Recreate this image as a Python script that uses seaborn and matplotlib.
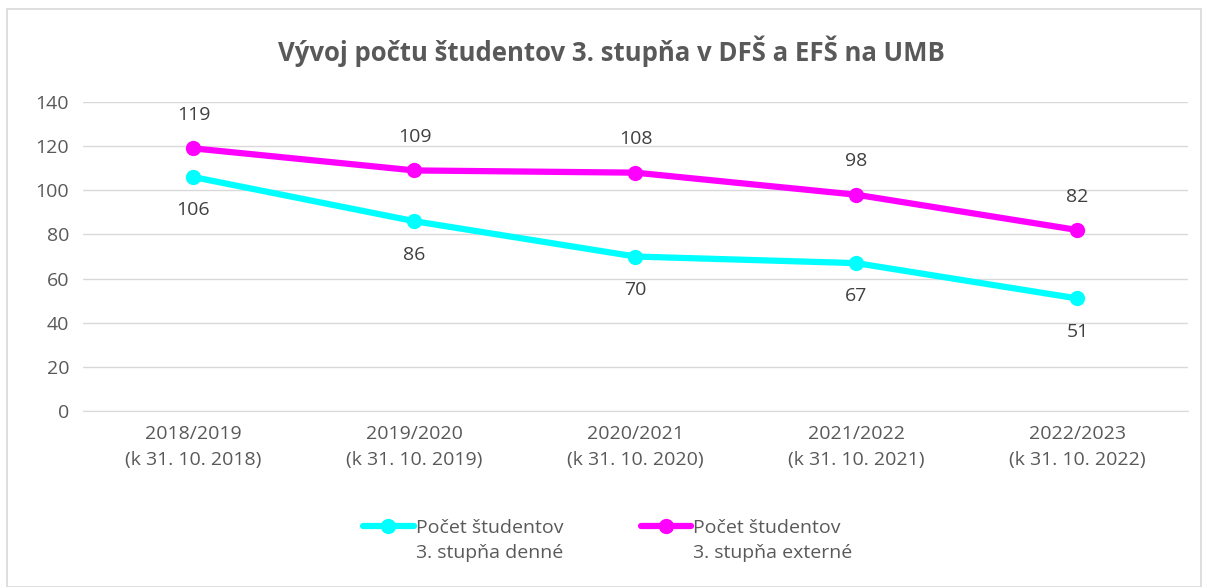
import pandas as pd
import matplotlib.pyplot as plt
import seaborn as sns

# Data
years = ["2018/2019\n(k 31. 10. 2018)", "2019/2020\n(k 31. 10. 2019)",
         "2020/2021\n(k 31. 10. 2020)", "2021/2022\n(k 31. 10. 2021)",
         "2022/2023\n(k 31. 10. 2022)"]
denne = [106, 86, 70, 67, 51]
externe = [119, 109, 108, 98, 82]
series_names = ["Počet študentov\n3. stupňa denné", "Počet študentov\n3. stupňa externé"]

df = pd.DataFrame({
    "Rok": years * 2,
    "Pocet": denne + externe,
    "Seria": [series_names[0]] * len(years) + [series_names[1]] * len(years),
})
df["x"] = list(range(len(years))) * 2

sns.set_style("white")
plt.rcParams["font.family"] = ["Open Sans", "DejaVu Sans"]

text_color = "#595959"
colors = {series_names[0]: "#00FFFF", series_names[1]: "#FF00FF"}

fig = plt.figure(figsize=(12.06, 5.87), dpi=100)
ax = fig.add_axes([0.0688, 0.2998, 0.9162, 0.5264])

sns.lineplot(data=df, x="x", y="Pocet", hue="Seria", palette=colors,
             marker="o", markersize=11, markeredgewidth=0, linewidth=4.5,
             ax=ax, legend=True)

# data labels
for i, v in enumerate(externe):
    ax.annotate(str(v), (i, v), xytext=(0, 24), textcoords="offset points",
                ha="center", va="center", fontsize=14, color="#404040")
for i, v in enumerate(denne):
    ax.annotate(str(v), (i, v), xytext=(0, -24), textcoords="offset points",
                ha="center", va="center", fontsize=14, color="#404040")

ax.set_xlim(-0.5, len(years) - 0.5)
ax.set_ylim(0, 140)
ax.set_yticks(range(0, 141, 20))
ax.set_xticks(range(len(years)))
ax.set_xticklabels(years, linespacing=1.55)
ax.yaxis.grid(True, color="#D9D9D9", linewidth=1)
ax.set_axisbelow(True)
for s in ["top", "right", "left"]:
    ax.spines[s].set_visible(False)
ax.spines["bottom"].set_color("#D9D9D9")
ax.tick_params(axis="both", length=0, labelsize=14, colors=text_color, pad=10)
ax.tick_params(axis="x", pad=10)
ax.set_xlabel("")
ax.set_ylabel("")

fig.text(0.507, 0.913, "Vývoj počtu študentov 3. stupňa v DFŠ a EFŠ na UMB",
         ha="center", va="center", fontsize=18.5, fontweight="bold", color=text_color)

leg = ax.legend(loc="upper center", bbox_to_anchor=(0.475, -0.292), ncol=2,
                frameon=False, fontsize=14, handlelength=2.6, columnspacing=4.0,
                handletextpad=0.1)
for t in leg.get_texts():
    t.set_color(text_color)
    t.set_linespacing(1.55)
# handle next to the first text line, as in the original
for col in leg._legend_handle_box.get_children():
    for row in col.get_children():
        row.align = "top"

# outer border
fig.patches.append(plt.Rectangle((0.006, 0.0), 0.99, 0.985, transform=fig.transFigure,
                                 fill=False, edgecolor="#D9D9D9", linewidth=1.2))

plt.savefig("out.png", dpi=100)
